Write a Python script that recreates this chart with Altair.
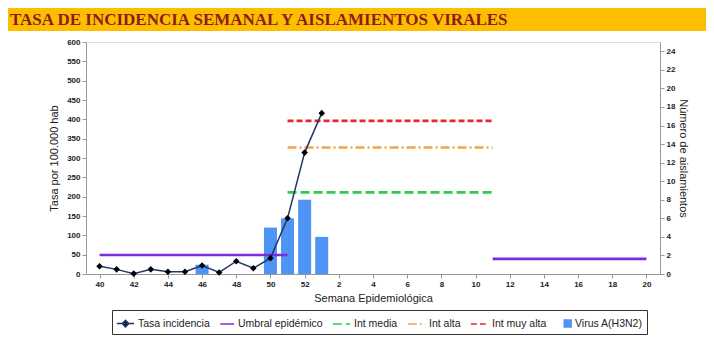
import altair as alt
import pandas as pd

# ---- data ----
week_labels = [40, 41, 42, 43, 44, 45, 46, 47, 48, 49, 50, 51, 52,
               1, 2, 3, 4, 5, 6, 7, 8, 9, 10, 11, 12, 13, 14, 15, 16, 17, 18, 19, 20]
tasa_weeks = [40, 41, 42, 43, 44, 45, 46, 47, 48, 49, 50, 51, 52, 1]
tasa_values = [20, 12, 1, 12, 6, 6, 22, 4, 33, 15, 41, 144, 314, 416]
virus_weeks = [46, 50, 51, 52, 1]
virus_values = [1, 5, 6, 8, 4]
# threshold segments: series, start week, end week, value
thr_series = ["Umbral epidémico", "Umbral epidémico", "Int media", "Int alta", "Int muy alta"]
thr_start = [40, 11, 51, 51, 51]
thr_end = [51, 20, 11, 11, 11]
thr_values = [49, 39, 211, 327, 396]

series = ["Tasa incidencia", "Umbral epidémico", "Int media", "Int alta",
          "Int muy alta", "Virus A(H3N2)"]
colors = ["#22356e", "#7b2be0", "#2fcc4c", "#f4a24e", "#e22a2a", "#4d94f5"]
fills = ["#000000", "transparent", "transparent", "transparent", "transparent", "#4d94f5"]
dashes = [[1, 0], [1, 0], [9, 4], [9, 3, 2, 3], [6, 3], [1, 0]]
shapes = ["M-1,0L1,0M0,-0.38L0.38,0L0,0.38L-0.38,0Z", "M-0.6,0L1,0", "M-1,0L1,0",
          "M-1,0L1,0", "M-1,0L1,0", "M0.2,-0.4L1,-0.4L1,0.4L0.2,0.4Z"]
title_text = "TASA DE INCIDENCIA SEMANAL Y AISLAMIENTOS VIRALES"

def pos(w):
    return week_labels.index(w)

tasa_df = pd.DataFrame({"idx": [pos(w) for w in tasa_weeks], "y": tasa_values,
                        "serie": series[0]})
virus_df = pd.DataFrame({"idx": [pos(w) for w in virus_weeks], "n": virus_values,
                         "serie": series[5]})
thr_df = pd.DataFrame({"idx": [pos(w) for w in thr_start], "idx2": [pos(w) for w in thr_end],
                       "y": thr_values, "serie": thr_series})
head_df = pd.DataFrame({"t": [title_text]})

FONT = "Liberation Sans"
W, H = 574, 232

xscale = alt.Scale(domain=[-0.5, len(week_labels) - 0.5], nice=False, zero=False)
xaxis = alt.Axis(values=list(range(0, len(week_labels), 2)),
                 labelExpr="datum.value < 13 ? datum.value + 40 : datum.value - 12",
                 title="Semana Epidemiológica", grid=False, tickSize=4,
                 labelFontSize=8, labelFont=FONT, labelColor="#222", labelFontWeight="bold",
                 titleFont=FONT, titleFontSize=11, titleFontWeight="normal",
                 titleColor="#222", titlePadding=4, domainColor="#999", tickColor="#999")
X = alt.X("idx:Q", scale=xscale, axis=xaxis)

yscale = alt.Scale(domain=[0, 600], nice=False)
yaxis = alt.Axis(values=list(range(0, 601, 50)), title="Tasa por 100.000 hab",
                 grid=False, tickSize=4, orient="left",
                 labelFontSize=8, labelFont=FONT, labelColor="#222", labelFontWeight="bold",
                 titleFont=FONT, titleFontSize=11, titleFontWeight="normal",
                 titleColor="#222", titlePadding=7, domainColor="#999", tickColor="#999")
def Y(f="y"):
    return alt.Y(f + ":Q", scale=yscale, axis=yaxis)

def legend():
    return alt.Legend(
        title=None, orient="none", legendX=26, legendY=268, direction="horizontal",
        columns=6, strokeColor="#333", padding=4, columnPadding=6,
        labelOffset=3, symbolSize=300, symbolStrokeWidth=1.5, labelFont=FONT,
        labelFontSize=10.5, labelColor="#222", labelLimit=200)

color_scale = alt.Scale(domain=series, range=colors)

header_rect = alt.Chart(head_df).mark_rect(color="#fdbe00").encode(
    x=alt.value(-78), x2=alt.value(620), y=alt.value(-34), y2=alt.value(-11))
header_text = alt.Chart(head_df).mark_text(
    align="left", baseline="middle", font="Liberation Serif", fontWeight="bold",
    fontSize=17, color="#8e1b1b").encode(x=alt.value(-76), y=alt.value(-22), text="t:N")

bars = alt.Chart(virus_df).mark_bar(size=13).encode(
    x=X,
    y=alt.Y("n:Q", scale=alt.Scale(domain=[0, 25], nice=False),
            axis=alt.Axis(values=list(range(0, 25, 2)), orient="right",
                          title="Número de aislamientos", grid=False, tickSize=4,
                          labelFontSize=8, labelFont=FONT, labelColor="#222",
                          labelFontWeight="bold", titleFont=FONT, titleFontSize=11,
                          titleFontWeight="normal", titleColor="#222", titlePadding=3,
                          domainColor="#999", tickColor="#999")),
    fill=alt.Fill("serie:N", scale=alt.Scale(domain=series, range=fills), legend=legend()))

rules = alt.Chart(thr_df).mark_rule(strokeWidth=2.6, strokeCap="butt").encode(
    x=X, x2="idx2:Q", y=Y(),
    color=alt.Color("serie:N", scale=color_scale, legend=legend()),
    strokeDash=alt.StrokeDash("serie:N", scale=alt.Scale(domain=series, range=dashes),
                              legend=legend()))

line = alt.Chart(tasa_df).mark_line(strokeWidth=1.5).encode(
    x=X, y=Y(), color=alt.Color("serie:N", scale=color_scale, legend=legend()))
pts = alt.Chart(tasa_df).mark_point(filled=True, color="#000", size=300, opacity=1).encode(
    x=X, y=Y(),
    shape=alt.Shape("serie:N", scale=alt.Scale(domain=series, range=shapes), legend=legend()))

inner = alt.layer(header_rect, header_text, rules, line, pts)
chart = alt.layer(bars, inner).resolve_scale(y="independent").properties(
    width=W, height=H, padding=0
).configure_view(stroke="#aaa").configure(background="white")

chart.save("out.html", embed_options={"renderer": "svg", "actions": False})
